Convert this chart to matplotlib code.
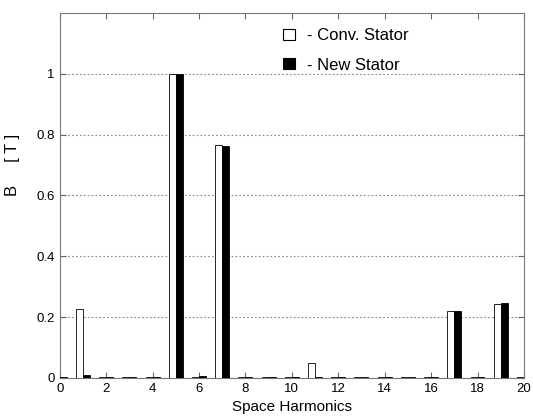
import numpy as np
import matplotlib
matplotlib.use("Agg")
import matplotlib.pyplot as plt
from matplotlib.patches import Patch

plt.rcParams['font.family'] = ['Liberation Sans', 'DejaVu Sans']

# Harmonic order and flux density amplitudes (T)
harmonics = np.arange(0, 21)
conv_stator = [0.003, 0.226, 0.002, 0.003, 0.003, 1.0, 0.004, 0.765, 0.003, 0.003, 0.003,
               0.049, 0.003, 0.003, 0.003, 0.003, 0.003, 0.22, 0.003, 0.244, 0.003]
new_stator = [0.004, 0.01, 0.003, 0.003, 0.003, 0.998, 0.008, 0.764, 0.003, 0.003, 0.003,
              0.003, 0.003, 0.003, 0.003, 0.003, 0.003, 0.22, 0.003, 0.248, 0.002]
legend_labels = ['- Conv. Stator', '- New Stator']

fig = plt.figure(figsize=(5.33, 4.19), dpi=100)
ax = fig.add_axes([0.112, 0.098, 0.871, 0.871])

w = 0.3
ax.bar(harmonics - w / 2, conv_stator, width=w, color='white', edgecolor='black', linewidth=0.6, zorder=3)
ax.bar(harmonics + w / 2, new_stator, width=w, color='black', edgecolor='black', linewidth=0.6, zorder=3)

ax.set_xlim(0, 20)
ax.set_ylim(0, 1.2)
ax.set_xticks(np.arange(0, 21, 2))
ax.set_yticks([0, 0.2, 0.4, 0.6, 0.8, 1.0])
ax.set_yticklabels(['0', '0.2', '0.4', '0.6', '0.8', '1'])
ax.yaxis.grid(True, linestyle=(0, (1.5, 2)), color='#888888', linewidth=0.8, zorder=0)

ax.tick_params(direction='in', top=True, right=True, length=4, labelsize=9.5, color='#666666')
for s in ax.spines.values():
    s.set_color('#777777')
    s.set_linewidth(0.8)

ax.set_xlabel('Space Harmonics', fontsize=11, labelpad=4)
ax.set_ylabel('B     [ T ]', fontsize=12)
ax.yaxis.set_label_coords(-0.085, 0.584)

handles = [Patch(facecolor='white', edgecolor='black', linewidth=0.8),
           Patch(facecolor='black', edgecolor='black', linewidth=0.8)]
ax.legend(handles, legend_labels, loc='upper left', bbox_to_anchor=(0.462, 0.981), frameon=False,
          borderpad=0, fontsize=12, handlelength=0.72, handleheight=0.65, handletextpad=0.76,
          labelspacing=0.86)

fig.savefig('out.png', dpi=100)
